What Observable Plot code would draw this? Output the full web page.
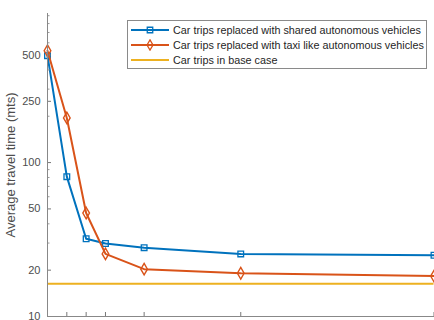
<!DOCTYPE html>
<html>
<head>
<meta charset="utf-8">
<script src="https://cdn.jsdelivr.net/npm/d3@7"></script>
<script src="https://cdn.jsdelivr.net/npm/@observablehq/plot@0.6"></script>
<style>
  html, body { margin: 0; padding: 0; background: #fff; }
  #wrap { position: relative; width: 434px; height: 320px; overflow: hidden; font-family: "Liberation Sans", Arial, sans-serif; }
  #legend { position: absolute; left: 127px; top: 20px; width: 296px; height: 46px; border: 1px solid #8a8a8a; background: #fff; padding: 1px 0 0 2px; }
  #legend .row { display: flex; align-items: center; height: 15px; font-size: 10.8px; color: #262626; white-space: nowrap; }
  #legend svg { flex: none; margin-right: 3px; }
</style>
</head>
<body>
<div id="wrap"></div>
<script>
// x values (number of something) and series
const xValues = [0, 1, 2, 3, 5, 10, 20];
const sharedAV = [495, 81, 32, 29.8, 28, 25.5, 25];
const taxiAV = [533, 195, 47, 25.5, 20.3, 19.1, 18.3];
const baseCase = [16.3];
const yTickValues = [10, 20, 50, 100, 250, 500];
const yMinorTicks = [30, 40, 60, 70, 80, 90, 200, 300, 400, 600, 700, 800, 900];
const seriesNames = [
  "Car trips replaced with shared autonomous vehicles",
  "Car trips replaced with taxi like autonomous vehicles",
  "Car trips in base case"
];
const colors = ["#0072BD", "#D95319", "#EDB120"];

const shared = xValues.map((x, i) => ({x, y: sharedAV[i]}));
const taxi = xValues.map((x, i) => ({x, y: taxiAV[i]}));

const chart = Plot.plot({
  width: 434,
  height: 320,
  marginLeft: 47,
  marginRight: 0.5,
  marginTop: 13,
  marginBottom: 4,
  style: {fontFamily: "Liberation Sans, Arial, sans-serif", fontSize: "11px", color: "#4d4d4d", overflow: "hidden"},
  x: {domain: [0, 20]},
  y: {type: "log", domain: [10, 930]},
  marks: [
    Plot.ruleY(baseCase, {stroke: colors[2], strokeWidth: 2}),
    Plot.line(shared, {x: "x", y: "y", stroke: colors[0], strokeWidth: 2}),
    Plot.dot(shared, {x: "x", y: "y", symbol: "square", r: 3.2, stroke: colors[0], strokeWidth: 1.3, fill: "none"}),
    Plot.line(taxi, {x: "x", y: "y", stroke: colors[1], strokeWidth: 2}),
    Plot.dot(taxi, {x: "x", y: "y", symbol: "diamond", r: 3.5, stroke: colors[1], strokeWidth: 1.4, fill: "none"}),
    Plot.axisY({ticks: yTickValues, tickFormat: d => String(d), tickSize: -4, tickPadding: 11, stroke: "#777",
      label: "Average travel time (mts)", labelAnchor: "center", labelArrow: "none", labelOffset: 42, fontSize: 11}),
    Plot.axisY({ticks: yMinorTicks, tickFormat: () => "", tickSize: -2.5, stroke: "#999", label: null}),
    Plot.axisX({ticks: xValues, tickFormat: () => "", tickSize: -4, stroke: "#777", label: null}),
    Plot.frame({anchor: "left", stroke: "#888"}),
    Plot.frame({anchor: "bottom", stroke: "#888"})
  ]
});
document.getElementById("wrap").appendChild(chart);
// enlarge y label
d3.select(chart).selectAll("[aria-label='y-axis label'] text").style("font-size", "13px");

// legend overlay
const legend = d3.select("#wrap").append("div").attr("id", "legend");
seriesNames.forEach((name, i) => {
  const row = legend.append("div").attr("class", "row");
  const svg = row.append("svg").attr("width", 40).attr("height", 12);
  svg.append("line").attr("x1", 1).attr("x2", 39).attr("y1", 6).attr("y2", 6)
    .attr("stroke", colors[i]).attr("stroke-width", 2);
  if (i < 2) {
    const sym = i === 0 ? d3.symbolSquare : d3.symbolDiamond;
    const size = i === 0 ? 30 : 30;
    svg.append("path").attr("d", d3.symbol(sym, size)()).attr("transform", "translate(20,6)")
      .attr("fill", "none").attr("stroke", colors[i]).attr("stroke-width", 1.3);
  }
  row.append("span").text(name);
});
</script>
</body>
</html>
